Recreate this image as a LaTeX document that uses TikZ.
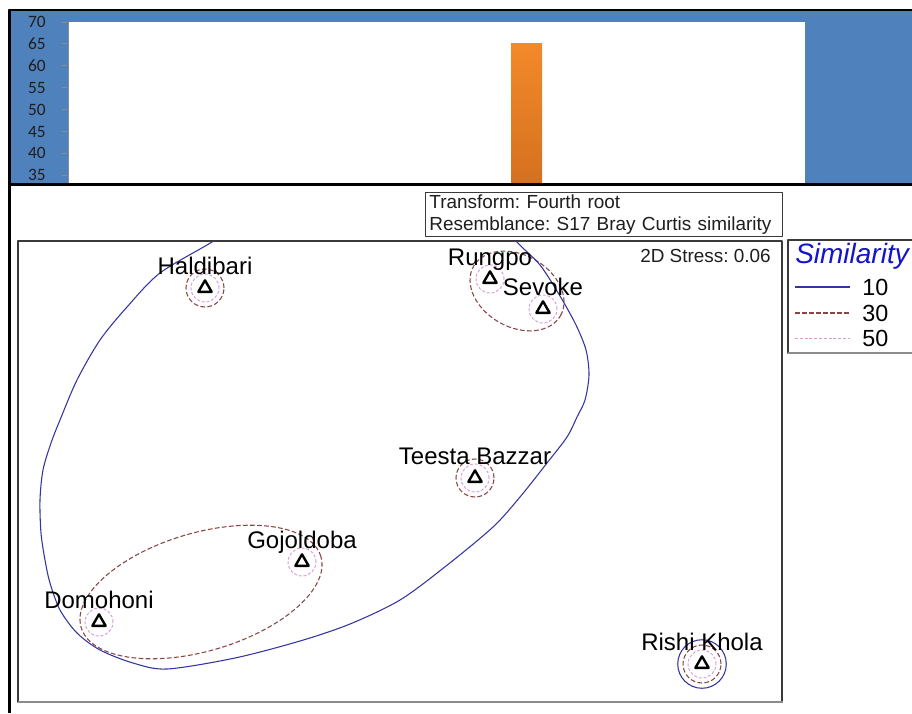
\documentclass[tikz,border=0pt]{standalone}
\usepackage{fontspec}
\setmainfont{Liberation Sans}
\newfontfamily\axisfont{Carlito}
\usepackage{tikz}
\usetikzlibrary{positioning,shapes.geometric}
\frenchspacing
\definecolor{mdPanel}{HTML}{4F81BD}
\definecolor{mdBarTop}{HTML}{F28A2A}
\definecolor{mdBarBot}{HTML}{D5701F}
\definecolor{mdInk}{HTML}{1E1E1E}
\definecolor{mdTen}{HTML}{35359E}
\definecolor{mdThirty}{HTML}{8A4545}
\definecolor{mdFifty}{HTML}{D99ADB}
\definecolor{mdHead}{HTML}{1414C8}
\definecolor{mdFrame}{HTML}{3A3A3A}
\definecolor{mdShadow}{HTML}{8C8C8C}
\tikzset{
  md diagram/.style={x=0.75pt, y=-0.75pt, line join=round},
  md site/.style={regular polygon, regular polygon sides=3, draw=black,
    line width=1.8pt, minimum size=11.5pt, inner sep=0pt},
  md name/.style={anchor=base, inner sep=0pt, text=black,
    font=\fontsize{18}{20}\selectfont},
  md small/.style={font=\fontsize{14.2}{16.5}\selectfont, text=mdInk},
  md ten/.style={draw=mdTen, line width=0.8pt},
  md thirty/.style={draw=mdThirty, line width=0.8pt, dash pattern=on 3.5pt off 1.8pt},
  md fifty/.style={draw=mdFifty, line width=0.7pt, dash pattern=on 2.2pt off 1.4pt},
  md axis num/.style={font=\axisfont\fontsize{13}{14}\selectfont, text=mdInk,
    anchor=east, inner sep=0pt},
  md legend num/.style={font=\fontsize{17.5}{20}\selectfont, text=black,
    anchor=west, inner sep=0pt}
}
\begin{document}
\begin{tikzpicture}[md diagram]
\useasboundingbox (0,0) rectangle (912,713);
\fill[white] (0,0) rectangle (912,713);
\begin{scope}
\fill[mdPanel] (8,9) rectangle (920,184);
\fill[white] (68,22) rectangle (805,184);
\draw[mdShadow, line width=0.5pt] (68,22) -- (68,184);
\foreach \v in {35,40,...,70} {
  \pgfmathsetmacro\yv{22+(70-\v)*4.38}
  \draw[mdShadow, line width=0.6pt] (62,\yv) -- (67,\yv);
  \node[md axis num] (ax\v) at (46,\yv) {\v};
}
\shade[top color=mdBarTop, bottom color=mdBarBot] (511,44) rectangle (542,184);
\draw[line width=1.8pt] (9.5,713) -- (9.5,10) -- (920,10);
\draw[line width=2pt] (8,184.5) -- (920,184.5);
\end{scope}
\node[draw=mdFrame, line width=0.6pt, md small, align=left, anchor=north west,
  text width=262pt, inner xsep=3pt, inner ysep=1pt, minimum height=33pt]
  (tbox) at (425,192) {Transform: Fourth root\\Resemblance: S17 Bray Curtis similarity};
\draw[mdFrame, line width=0.9pt] (18,241) rectangle (782,702);
\draw[mdShadow, line width=1.5pt] (18,702) -- (783,702);
\node[md small, anchor=east, inner sep=0pt] (stress) at (771,256) {2D Stress: 0.06};
\draw[mdFrame, line width=0.9pt] (920,240) -- (788,240) -- (788,353) -- (920,353);
\draw[mdShadow, line width=1.2pt] (788,353) -- (920,353);
\node[font=\itshape\fontsize{21}{24}\selectfont, text=mdHead, anchor=west, inner sep=0pt]
  (simhd) at (795,256) {Similarity};
\node[md legend num] (lg10) at (862,287) {10};
\node[md legend num] (lg30) at (862,313) {30};
\node[md legend num] (lg50) at (862,338) {50};
\draw[md ten] (795,287) -- (850,287);
\draw[md thirty] (795,313) -- (850,313);
\draw[md fifty] (795,338) -- (850,338);
\node[md site] (hal) at (205,288) {};
\node[md site] (run) at (490,279) {};
\node[md site] (sev) at (543,309) {};
\node[md site] (tee) at (475,478) {};
\node[md site] (goj) at (302,562) {};
\node[md site] (dom) at (99,622) {};
\node[md site] (ris) at (702,664) {};
\foreach \s in {hal,run,sev,tee,goj,dom,ris} \draw[md fifty] (\s.center) circle[radius=10.5pt];
\foreach \s in {hal,tee,ris} \draw[md thirty] (\s.center) circle[radius=14.25pt];
\draw[md ten] (ris.center) circle[radius=18.2pt];
\draw[md thirty, rotate around={-29.5:(517,291)}] (517,291) ellipse[x radius=37.5pt, y radius=27pt];
\draw[md thirty, rotate around={16.5:(201,592)}] (201,592) ellipse[x radius=93.75pt, y radius=44.25pt];
\begin{scope}
\clip (18,241) rectangle (782,702);
\draw[md ten] plot[smooth cycle, tension=0.5] coordinates {
  (212,242) (262,210) (330,188) (400,182) (475,195) (517,242) (540,265)
  (560,296) (576,325) (586,350) (589,375) (585,400) (577,417) (567,437)
  (547,463) (520,497) (493,527) (446,566) (400,600) (350,624) (300,641)
  (235,658) (167,669) (133,663) (100,650) (77,633) (60,610) (50,583)
  (45,560) (41,533) (40,500) (43,470) (51,443) (60,420) (77,380)
  (100,340) (127,307) (160,273)};
\end{scope}
\node[md name] (hal-t) at ([yshift=10.3pt]hal.center) {Haldibari};
\node[md name] (run-t) at ([yshift=10.3pt]run.center) {Rungpo};
\node[md name] (sev-t) at ([yshift=10.3pt]sev.center) {Sevoke};
\node[md name] (tee-t) at ([yshift=10.3pt]tee.center) {Teesta Bazzar};
\node[md name] (goj-t) at ([yshift=10.3pt]goj.center) {Gojoldoba};
\node[md name] (dom-t) at ([yshift=10.3pt]dom.center) {Domohoni};
\node[md name] (ris-t) at ([yshift=10.3pt]ris.center) {Rishi Khola};
\end{tikzpicture}
\end{document}
